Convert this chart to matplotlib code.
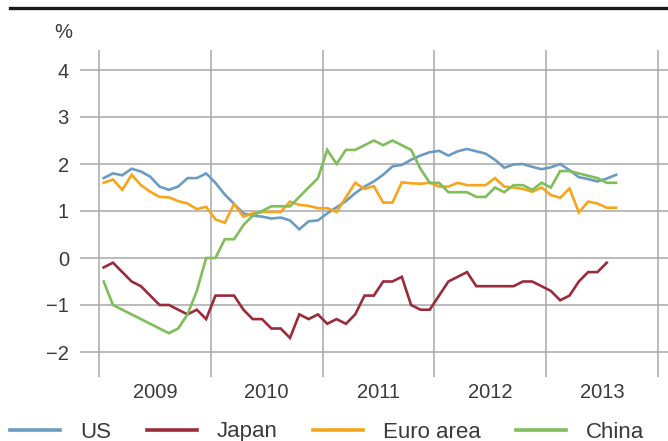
import numpy as np
import matplotlib
matplotlib.use("Agg")
import matplotlib.pyplot as plt
from matplotlib.lines import Line2D

plt.rcParams['font.family'] = ['Liberation Sans', 'DejaVu Sans']

# Monthly values, January 2009 onwards (%)
us = [1.7, 1.8, 1.76, 1.9, 1.84, 1.73, 1.52, 1.45, 1.52, 1.7, 1.7, 1.8,
      1.6, 1.35, 1.15, 0.95, 0.9, 0.88, 0.84, 0.86, 0.8, 0.61, 0.78, 0.8,
      0.95, 1.08, 1.21, 1.38, 1.52, 1.63, 1.77, 1.95, 1.98, 2.09, 2.18, 2.25,
      2.28, 2.18, 2.27, 2.32, 2.27, 2.22, 2.09, 1.92, 1.99, 2.0, 1.94, 1.89,
      1.93, 2.0, 1.87, 1.72, 1.68, 1.63, 1.69, 1.77]
japan = [-0.2, -0.1, -0.3, -0.5, -0.6, -0.8, -1.0, -1.0, -1.1, -1.2, -1.1, -1.3,
         -0.8, -0.8, -0.8, -1.1, -1.3, -1.3, -1.5, -1.5, -1.7, -1.2, -1.3, -1.2,
         -1.4, -1.3, -1.4, -1.2, -0.8, -0.8, -0.5, -0.5, -0.4, -1.0, -1.1, -1.1,
         -0.8, -0.5, -0.4, -0.3, -0.6, -0.6, -0.6, -0.6, -0.6, -0.5, -0.5, -0.6,
         -0.7, -0.9, -0.8, -0.5, -0.3, -0.3, -0.1]
euro = [1.6, 1.67, 1.45, 1.77, 1.55, 1.41, 1.3, 1.29, 1.21, 1.16, 1.04, 1.09,
        0.82, 0.75, 1.15, 0.88, 0.95, 0.98, 0.98, 0.98, 1.2, 1.13, 1.11, 1.06,
        1.06, 0.98, 1.29, 1.6, 1.47, 1.53, 1.18, 1.18, 1.61, 1.59, 1.58, 1.6,
        1.52, 1.52, 1.6, 1.55, 1.55, 1.55, 1.7, 1.52, 1.5, 1.47, 1.41, 1.5,
        1.34, 1.28, 1.48, 0.97, 1.2, 1.16, 1.07, 1.07]
china = [-0.5, -1.0, -1.1, -1.2, -1.3, -1.4, -1.5, -1.6, -1.5, -1.2, -0.7, 0.0,
         0.0, 0.4, 0.4, 0.7, 0.9, 1.0, 1.1, 1.1, 1.1, 1.3, 1.5, 1.7,
         2.3, 2.0, 2.3, 2.3, 2.4, 2.5, 2.4, 2.5, 2.4, 2.3, 1.9, 1.6,
         1.6, 1.4, 1.4, 1.4, 1.3, 1.3, 1.5, 1.4, 1.55, 1.55, 1.45, 1.6,
         1.5, 1.85, 1.85, 1.8, 1.75, 1.7, 1.6, 1.6]

years = [2009, 2010, 2011, 2012, 2013]
yticks = [-2, -1, 0, 1, 2, 3, 4]

series = [("US", us, "#6b9bc3"),
          ("Japan", japan, "#9b2b3b"),
          ("Euro area", euro, "#f7a51c"),
          ("China", china, "#80bd5b")]

txt = "#3a3a3a"
grid = "#a8a8a8"

fig = plt.figure(figsize=(6.68, 4.41), dpi=100)
ax = fig.add_axes([80 / 668, 64 / 441, 588 / 668, 327 / 441])

for y in yticks:
    ax.axhline(y, color=grid, lw=1.1, zorder=1)
for y in years + [2014]:
    ax.axvline(y, color=grid, lw=1.1, zorder=1)

for name, vals, col in series:
    x = 2009 + (np.arange(len(vals)) + 0.5) / 12
    ax.plot(x, vals, color=col, lw=1.9, label=name, zorder=3,
            solid_joinstyle='miter')

ax.set_xlim(2009 - 19 / 111.8, 2014 + 10 / 111.8)
ax.set_ylim(-2 - 25 / 47, 4 + 20 / 47)
for s in ax.spines.values():
    s.set_visible(False)
ax.set_xticks([])
ax.set_yticks(yticks)
ax.set_yticklabels([str(v).replace('-', '\u2212') for v in yticks],
                   fontsize=14.5, color=txt)
ax.tick_params(axis='y', length=0, pad=8)

for yr in years:
    ax.text(yr + 0.5, -0.018, str(yr), transform=ax.get_xaxis_transform(),
            ha='center', va='top', fontsize=14.5, color=txt)

fig.text(63 / 668, 1 - 33 / 441, "%", ha='center', va='center',
         fontsize=14.5, color=txt)

# black rule at the top
fig.add_artist(Line2D([10 / 668, 1], [1 - 8 / 441, 1 - 8 / 441],
                      color="#1a1a1a", lw=2.4, transform=fig.transFigure))

leg = fig.legend(loc='center left', bbox_to_anchor=(10 / 668, 9 / 441),
                 ncol=4, frameon=False, fontsize=16, handlelength=2.25,
                 handletextpad=0.9, columnspacing=1.6, borderpad=0,
                 borderaxespad=0)
for t in leg.get_texts():
    t.set_color(txt)
for h in leg.get_lines():
    h.set_linewidth(2.6)

fig.savefig("out.png", dpi=100)
